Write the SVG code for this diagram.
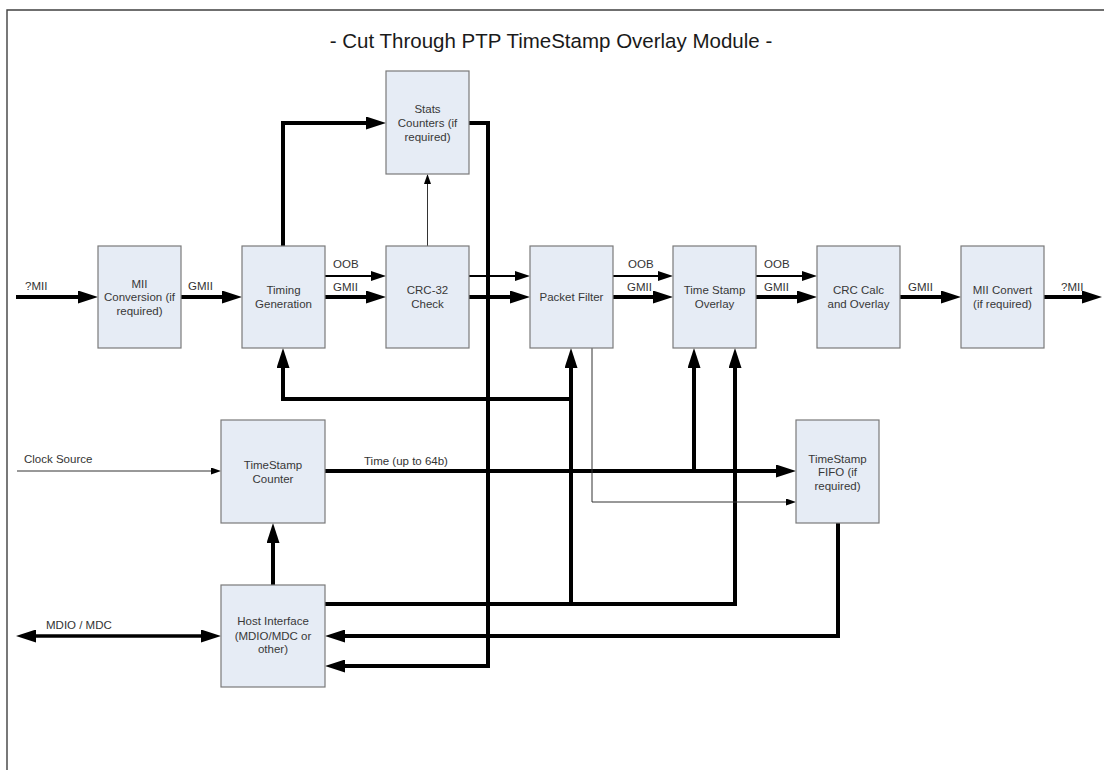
<svg xmlns="http://www.w3.org/2000/svg" width="1104" height="770" viewBox="0 0 1104 770">
<style>
.bg{fill:#ffffff}
.frame{fill:none;stroke:#404040;stroke-width:1.4}
.box{fill:#e6ecf5;stroke:#7a7a7a;stroke-width:1.2}
.bt{font-family:"Liberation Sans",Arial,sans-serif;font-size:11.5px;fill:#383838;text-anchor:middle}
.lt{font-family:"Liberation Sans",Arial,sans-serif;font-size:11.5px;fill:#333333}
.title{font-family:"Liberation Sans",Arial,sans-serif;font-size:20.5px;fill:#1a1a1a;text-anchor:middle}
.thick{fill:none;stroke:#000;stroke-width:4;stroke-linejoin:miter}
.mdio{fill:none;stroke:#000;stroke-width:3.5}
.med{fill:none;stroke:#000;stroke-width:2}
.thin{fill:none;stroke:#333;stroke-width:1}
</style>
<defs>
<marker id="ab" markerUnits="userSpaceOnUse" markerWidth="20" markerHeight="13" refX="6" refY="6.5" orient="auto-start-reverse"><path d="M0,0 L20,6.5 L0,13 z" fill="#000"/></marker>
<marker id="am" markerUnits="userSpaceOnUse" markerWidth="15" markerHeight="10" refX="5" refY="5" orient="auto"><path d="M0,0 L15,5 L0,10 z" fill="#000"/></marker>
<marker id="as" markerUnits="userSpaceOnUse" markerWidth="10" markerHeight="7" refX="3" refY="3.5" orient="auto"><path d="M0,0 L10,3.5 L0,7 z" fill="#000"/></marker>
</defs>
<rect class="bg" x="0" y="0" width="1104" height="770"/>
<path class="frame" d="M7,770 V10 H1104"/>
<text class="title" x="551" y="48">- Cut Through PTP TimeStamp Overlay Module -</text>

<g id="connectors">
  <!-- main data path -->
  <path class="thick" d="M16,297 H84" marker-end="url(#ab)"/>
  <path class="thick" d="M181,297 H228" marker-end="url(#ab)"/>
  <path class="thick" d="M325,297 H372" marker-end="url(#ab)"/>
  <path class="thick" d="M469,297 H516" marker-end="url(#ab)"/>
  <path class="thick" d="M613,297 H659" marker-end="url(#ab)"/>
  <path class="thick" d="M756,297 H803" marker-end="url(#ab)"/>
  <path class="thick" d="M900,297 H947" marker-end="url(#ab)"/>
  <path class="thick" d="M1044,297 H1088" marker-end="url(#ab)"/>
  <!-- OOB -->
  <path class="med" d="M325,276 H376" marker-end="url(#am)"/>
  <path class="med" d="M469,276 H520" marker-end="url(#am)"/>
  <path class="med" d="M613,276 H663" marker-end="url(#am)"/>
  <path class="med" d="M756,276 H807" marker-end="url(#am)"/>
  <!-- stats -->
  <path class="thick" d="M283,246 V123 H372" marker-end="url(#ab)"/>
  <path class="thick" d="M469,123 H488 V666 H339" marker-end="url(#ab)"/>
  <path class="thin" d="M427.5,246 V181" marker-end="url(#as)"/>
  <!-- host out / feedback -->
  <path class="thick" d="M325,604 H735 V362" marker-end="url(#ab)"/>
  <path class="thick" d="M571,604 V362" marker-end="url(#ab)"/>
  <path class="thick" d="M571,399 H283 V362" marker-end="url(#ab)"/>
  <!-- time -->
  <path class="thick" d="M325,471 H782" marker-end="url(#ab)"/>
  <path class="thick" d="M694,471 V362" marker-end="url(#ab)"/>
  <path class="thin" d="M17,471 H214" marker-end="url(#as)"/>
  <!-- packet filter to fifo -->
  <path class="thin" d="M592,348 V502 H789" marker-end="url(#as)"/>
  <!-- fifo to host -->
  <path class="thick" d="M838,523 V636 H339" marker-end="url(#ab)"/>
  <!-- MDIO -->
  <path class="mdio" d="M30,636 H207" marker-start="url(#ab)" marker-end="url(#ab)"/>
  <!-- host to counter -->
  <path class="thick" d="M273,585 V537" marker-end="url(#ab)"/>
  <!-- labels -->
  <text class="lt" x="25" y="290">?MII</text>
  <text class="lt" x="188" y="290">GMII</text>
  <text class="lt" x="333" y="268">OOB</text>
  <text class="lt" x="333" y="291">GMII</text>
  <text class="lt" x="628" y="268">OOB</text>
  <text class="lt" x="627" y="291">GMII</text>
  <text class="lt" x="764" y="268">OOB</text>
  <text class="lt" x="764" y="291">GMII</text>
  <text class="lt" x="908" y="291">GMII</text>
  <text class="lt" x="1061" y="291">?MII</text>
  <text class="lt" x="24" y="463">Clock Source</text>
  <text class="lt" x="364" y="465">Time (up to 64b)</text>
  <text class="lt" x="46" y="629">MDIO / MDC</text>
</g>

<g id="mii-conversion">
  <rect class="box" x="98" y="246" width="83" height="102"/>
  <text class="bt" x="139.5" y="287.5">MII</text>
  <text class="bt" x="139.5" y="301">Conversion (if</text>
  <text class="bt" x="139.5" y="314.5">required)</text>
</g>
<g id="timing-generation">
  <rect class="box" x="242" y="246" width="83" height="102"/>
  <text class="bt" x="283.5" y="294">Timing</text>
  <text class="bt" x="283.5" y="307.5">Generation</text>
</g>
<g id="crc32-check">
  <rect class="box" x="386" y="246" width="83" height="102"/>
  <text class="bt" x="427.5" y="294">CRC-32</text>
  <text class="bt" x="427.5" y="307.5">Check</text>
</g>
<g id="stats-counters">
  <rect class="box" x="386" y="71" width="83" height="103"/>
  <text class="bt" x="427.5" y="113">Stats</text>
  <text class="bt" x="427.5" y="127">Counters (if</text>
  <text class="bt" x="427.5" y="141">required)</text>
</g>
<g id="packet-filter">
  <rect class="box" x="530" y="246" width="83" height="102"/>
  <text class="bt" x="571.5" y="301">Packet Filter</text>
</g>
<g id="time-stamp-overlay">
  <rect class="box" x="673" y="246" width="83" height="102"/>
  <text class="bt" x="714.5" y="294">Time Stamp</text>
  <text class="bt" x="714.5" y="307.5">Overlay</text>
</g>
<g id="crc-calc">
  <rect class="box" x="817" y="246" width="83" height="102"/>
  <text class="bt" x="858.5" y="294">CRC Calc</text>
  <text class="bt" x="858.5" y="307.5">and Overlay</text>
</g>
<g id="mii-convert">
  <rect class="box" x="961" y="246" width="83" height="102"/>
  <text class="bt" x="1002.5" y="294">MII Convert</text>
  <text class="bt" x="1002.5" y="307.5">(if required)</text>
</g>
<g id="timestamp-counter">
  <rect class="box" x="221" y="420" width="104" height="103"/>
  <text class="bt" x="273" y="469">TimeStamp</text>
  <text class="bt" x="273" y="482.5">Counter</text>
</g>
<g id="host-interface">
  <rect class="box" x="221" y="585" width="104" height="102"/>
  <text class="bt" x="273" y="625">Host Interface</text>
  <text class="bt" x="273" y="639.5">(MDIO/MDC or</text>
  <text class="bt" x="273" y="653">other)</text>
</g>
<g id="timestamp-fifo">
  <rect class="box" x="796" y="420" width="83" height="103"/>
  <text class="bt" x="837.5" y="462.5">TimeStamp</text>
  <text class="bt" x="837.5" y="476">FIFO (if</text>
  <text class="bt" x="837.5" y="489.5">required)</text>
</g>
</svg>
